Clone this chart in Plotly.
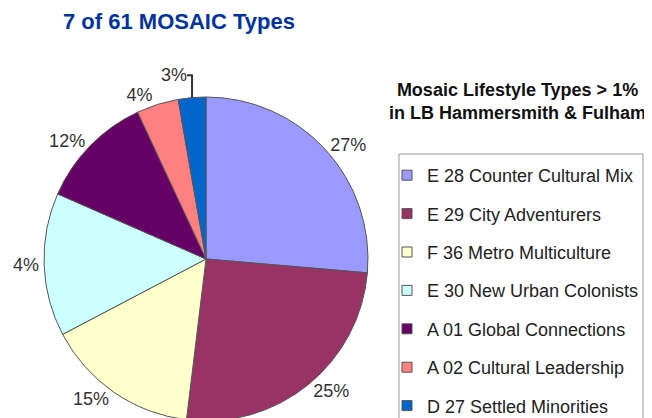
import plotly.graph_objects as go

categories = [
    "E 28 Counter Cultural Mix",
    "E 29 City Adventurers",
    "F 36 Metro Multiculture",
    "E 30 New Urban Colonists",
    "A 01 Global Connections",
    "A 02 Cultural Leadership",
    "D 27 Settled Minorities",
]
values = [26.4, 25.6, 15.4, 14.3, 11.5, 4.2, 2.75]
label_texts = ["27%", "25%", "15%", "4%", "12%", "4%", "3%"]
colors = ["#9999FF", "#993366", "#FFFFCC", "#CCFFFF", "#660066", "#FF8080", "#0066CC"]

W, H = 652, 418
OFF = 8  # page body margin offset
FONT = "Liberation Sans, Arial"


def px(x):
    return (x - OFF) / W


def py(y):
    return 1 - (y - OFF) / H


fig = go.Figure()
fig.add_trace(go.Pie(
    labels=categories,
    values=values,
    text=label_texts,
    textinfo="text",
    textposition="outside",
    sort=False,
    direction="clockwise",
    rotation=0,
    marker=dict(colors=colors, line=dict(color="#555555", width=1)),
    textfont=dict(family=FONT, size=18, color="#333333"),
    domain=dict(x=[px(44), px(368)], y=[py(421), py(97)]),
    showlegend=False,
    hoverinfo="label+percent",
))

for i, (name, col) in enumerate(zip(categories, colors)):
    fig.add_trace(go.Scatter(
        x=[None], y=[None], mode="markers", name=name,
        legendgroup=f"g{i}",
        marker=dict(symbol="square", size=10, color=col,
                    line=dict(color="#555555", width=1)),
    ))

fig.update_layout(
    width=W, height=H,
    margin=dict(l=0, r=0, t=0, b=0),
    paper_bgcolor="white", plot_bgcolor="white",
    xaxis=dict(visible=False), yaxis=dict(visible=False),
    title=dict(
        text="<b>7 of 61 MOSAIC Types</b>",
        x=px(63), xanchor="left", y=py(21), yanchor="middle",
        font=dict(family=FONT, size=22, color="#0033A0"),
    ),
    legend=dict(
        x=px(387), xanchor="left", y=py(157), yanchor="top",
        borderwidth=0, bgcolor="rgba(0,0,0,0)",
        font=dict(family=FONT, size=18, color="#222222"),
        tracegroupgap=12, itemwidth=30,
    ),
    shapes=[dict(
        type="rect", xref="paper", yref="paper",
        x0=px(399), x1=px(643), y0=py(440), y1=py(154),
        line=dict(color="#999999", width=1), fillcolor="rgba(0,0,0,0)",
        layer="below",
    )],
    annotations=[dict(
        text="<b>Mosaic Lifestyle Types > 1%<br>in LB Hammersmith & Fulham</b>",
        x=px(517), y=py(101), xref="paper", yref="paper",
        xanchor="center", yanchor="middle", showarrow=False, align="center",
        font=dict(family=FONT, size=18, color="#111111"),
    )],
)

fig.write_html("out.html")
